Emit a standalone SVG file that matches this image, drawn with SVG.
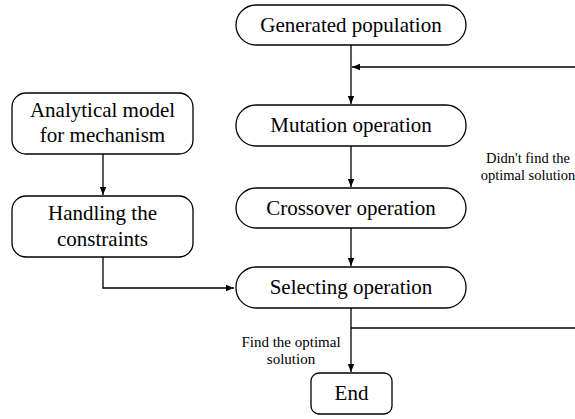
<svg xmlns="http://www.w3.org/2000/svg" width="575" height="419" viewBox="0 0 575 419">
<style>
.box{fill:#fff;stroke:#000;stroke-width:1.3}
.t{font-family:'Liberation Serif','Times New Roman',Tinos,'DejaVu Serif',serif;font-size:21px;fill:#000;text-anchor:middle}
.s{font-family:'Liberation Serif','Times New Roman',Tinos,'DejaVu Serif',serif;font-size:15px;fill:#000;text-anchor:middle}
.ln{fill:none;stroke:#000;stroke-width:1.3}
</style>
<defs>
<marker id="ah" viewBox="0 0 10 10" refX="10" refY="5" markerWidth="8" markerHeight="8" markerUnits="userSpaceOnUse" orient="auto">
<path d="M0,1 L10,5 L0,9 Z" fill="#000"/>
</marker>
</defs>
<rect width="575" height="419" fill="#fff"/>
<g id="connectors">
<path class="ln" d="M351,45 V104" marker-end="url(#ah)"/>
<path class="ln" d="M576,67 H352" marker-end="url(#ah)"/>
<path class="ln" d="M351,146 V187" marker-end="url(#ah)"/>
<path class="ln" d="M351,228 V266" marker-end="url(#ah)"/>
<path class="ln" d="M351,308 V372" marker-end="url(#ah)"/>
<path class="ln" d="M351,328 H576"/>
<path class="ln" d="M103,154 V195" marker-end="url(#ah)"/>
<path class="ln" d="M103,257 V288 H234" marker-end="url(#ah)"/>
</g>
<g id="generated">
<rect class="box" x="236" y="5" width="230" height="40" rx="20"/>
<text class="t" x="351" y="32">Generated population</text>
</g>
<g id="mutation">
<rect class="box" x="236" y="105" width="230" height="41" rx="20"/>
<text class="t" x="351" y="132">Mutation operation</text>
</g>
<g id="crossover">
<rect class="box" x="236" y="188" width="230" height="40" rx="20"/>
<text class="t" x="351" y="215">Crossover operation</text>
</g>
<g id="selecting">
<rect class="box" x="236" y="267" width="230" height="41" rx="20"/>
<text class="t" x="351" y="294">Selecting operation</text>
</g>
<g id="end">
<rect class="box" x="311" y="373" width="81" height="41" rx="8"/>
<text class="t" x="351.5" y="400">End</text>
</g>
<g id="analytical">
<rect class="box" x="12" y="93" width="181" height="61" rx="14"/>
<text class="t" x="102.5" y="117">Analytical model</text>
<text class="t" x="102.5" y="142">for mechanism</text>
</g>
<g id="handling">
<rect class="box" x="12" y="196" width="181" height="61" rx="14"/>
<text class="t" x="102.5" y="220">Handling the</text>
<text class="t" x="102.5" y="246">constraints</text>
</g>
<g id="labels">
<text class="s" x="528" y="163" style="font-size:14.5px">Didn't find the</text>
<text class="s" x="528" y="180" style="font-size:14.5px">optimal solution</text>
<text class="s" x="291" y="347">Find the optimal</text>
<text class="s" x="291" y="364">solution</text>
</g>
</svg>
